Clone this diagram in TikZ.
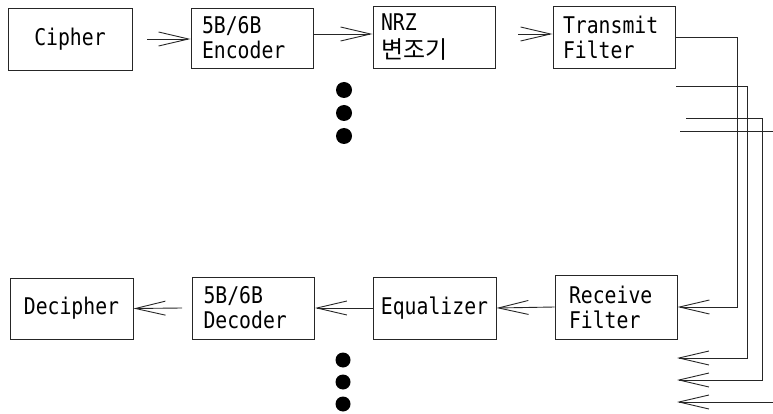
\documentclass[tikz,border=0pt]{standalone}
\usepackage{fontspec}
\usetikzlibrary{arrows.meta,calc}
\newfontfamily\lblfont[FakeStretch=0.86]{DejaVu Sans Mono}
\newfontfamily\krfont{Noto Sans CJK KR}

\tikzset{
  wire/.style={draw=black!85, line width=0.9pt},
  arr/.style={wire, -{Straight Barb[length=30pt,width=14pt,line width=0.9pt]}},
  block/.style={wire, rectangle, minimum width=122pt, minimum height=62pt,
    inner sep=0pt, font=\lblfont\fontsize{23}{25}\selectfont},
  blockl/.style={block, align=left, text width=100pt, inner xsep=11pt},
  blockc/.style={block, align=center},
  dotn/.style={circle, fill=black, inner sep=0pt, minimum size=16pt}
}

\begin{document}
\begin{tikzpicture}[x=1pt, y=-1pt]
  \useasboundingbox (0,0) rectangle (773,414);

  % transmit chain
  \node[blockc, minimum width=124pt] (cipher) at (70,39) {Cipher};
  \node[blockl, minimum height=60pt] (enc) at (252,38) {5B/6B\\Encoder};
  \node[blockl, text width=106pt, inner xsep=8pt] (nrz) at (434,37)
    {NRZ\\[3pt]{\krfont\fontsize{24}{25}\selectfont 변조기}};
  \node[blockl, inner xsep=10pt, text width=102pt] (tx) at (614,37) {Transmit\\Filter};

  % receive chain
  \node[blockc, minimum width=123pt, minimum height=61pt] (decipher) at (71.5,308.5) {Decipher};
  \node[blockl] (decoder) at (253.5,308) {5B/6B\\Decoder};
  \node[blockc, minimum width=123pt] (eq) at (434.5,308) {Equalizer};
  \node[blockl, inner xsep=14pt, text width=94pt, minimum height=64pt] (rx) at (616,307) {Receive\\Filter};

  % further parallel channels
  \node[dotn] (t1) at (344,90) {};
  \node[dotn] (t2) at (344,113) {};
  \node[dotn] (t3) at (344,136) {};
  \node[dotn, minimum size=15pt] (r1) at (343,360) {};
  \node[dotn, minimum size=15pt] (r2) at (343,382) {};
  \node[dotn, minimum size=15pt] (r3) at (343,404) {};

  % forward connections
  \draw[arr] ([xshift=15pt]cipher.east) -- (cipher.east -| enc.west);
  \draw[arr] ([yshift=4pt]enc.east) -- ([yshift=4pt]enc.east -| nrz.west);
  \draw[arr] ([xshift=23pt,yshift=3pt]nrz.east) -- ([yshift=3pt]nrz.east -| tx.west);

  % channel from transmitter to receiver
  \coordinate (ch1) at (737,0);
  \draw[arr] (tx.east) -- (tx.east -| ch1) -- (ch1 |- rx.east) -- (rx.east);

  % receive path
  \draw[arr] (rx.west) -- (eq.east);
  \draw[arr] (eq.west) -- (decoder.east);
  \draw[arr] ([xshift=-10pt]decoder.west) -- (decipher.east);

  % other channels
  \coordinate (a1) at (676,86);  \coordinate (a2) at (747,86);
  \coordinate (a3) at (747,358); \coordinate (a4) at (677,358);
  \draw[arr] (a1) -- (a2) -- (a3) -- (a4);

  \coordinate (b1) at (686,118); \coordinate (b2) at (762,118);
  \coordinate (b3) at (762,380); \coordinate (b4) at (677,380);
  \draw[arr] (b1) -- (b2) -- (b3) -- (b4);

  \coordinate (c1) at (680,131); \coordinate (c2) at (773,131);
  \draw[wire] (c1) -- (c2);
  \coordinate (c3) at (773,402); \coordinate (c4) at (677,402);
  \draw[arr] (c3) -- (c4);
\end{tikzpicture}
\end{document}
